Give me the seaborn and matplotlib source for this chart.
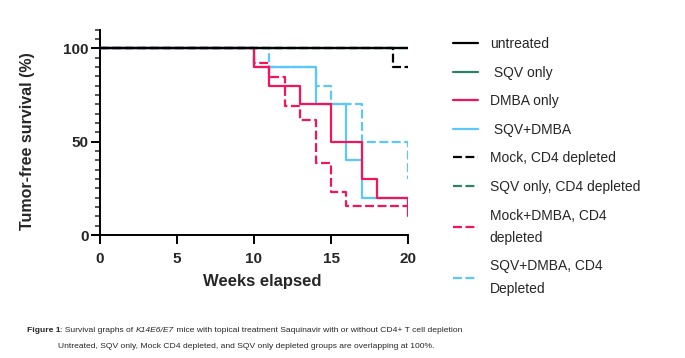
import matplotlib
matplotlib.use("Agg")
import matplotlib.pyplot as plt
import seaborn as sns
import pandas as pd
from matplotlib.ticker import MultipleLocator

sns.set_style("white")
plt.rcParams['font.family'] = ['Liberation Sans', 'DejaVu Sans']

# ---- data (weeks, % tumor-free) ----
labels = ["untreated", " SQV only", "DMBA only", " SQV+DMBA",
          "Mock, CD4 depleted", "SQV only, CD4 depleted",
          "Mock+DMBA, CD4\ndepleted", "SQV+DMBA, CD4\nDepleted"]
untreated_t = [0, 20];                          untreated_s = [100, 100]
sqv_t = [0, 20];                                sqv_s = [100, 100]
dmba_t = [0, 10, 11, 13, 15, 17, 18, 20];       dmba_s = [100, 90, 80, 70, 50, 30, 20, 10]
sqvdmba_t = [0, 10, 14, 16, 17, 20];            sqvdmba_s = [100, 90, 70, 40, 20, 20]
mockcd4_t = [0, 19, 20];                        mockcd4_s = [100, 90, 90]
sqvcd4_t = [0, 20];                             sqvcd4_s = [100, 100]
mockdmbacd4_t = [0, 10, 11, 12, 13, 14, 15, 16, 20]
mockdmbacd4_s = [100, 92.3, 84.6, 69.2, 61.5, 38.5, 23.1, 15.4, 15.4]
sqvdmbacd4_t = [0, 11, 14, 15, 17, 20];         sqvdmbacd4_s = [100, 90, 80, 70, 50, 30]

series_t = [untreated_t, sqv_t, dmba_t, sqvdmba_t, mockcd4_t, sqvcd4_t, mockdmbacd4_t, sqvdmbacd4_t]
series_s = [untreated_s, sqv_s, dmba_s, sqvdmba_s, mockcd4_s, sqvcd4_s, mockdmbacd4_s, sqvdmbacd4_s]

black, green, red, blue = "#000000", "#2f8068", "#f5145a", "#5ac8fa"
colors = [black, green, red, blue, black, green, red, blue]
dash = (0, (4, 1.6))
styles = ["-", "-", "-", "-", dash, dash, dash, dash]

fig = plt.figure(figsize=(6.85, 3.58), dpi=100)
ax = fig.add_axes([92.3 / 685, 1 - 242.5 / 358, 315.7 / 685, 212.9 / 358])

handles = [None] * len(labels)
for i in reversed(range(len(labels))):
    df = pd.DataFrame({"t": series_t[i], "s": series_s[i]})
    sns.lineplot(data=df, x="t", y="s", ax=ax, estimator=None, sort=False,
                 drawstyle="steps-post", color=colors[i], linestyle=styles[i],
                 linewidth=1.6, zorder=10 - i)
    handles[i] = ax.lines[-1]

ax.set_xlim(-0.5, 20)
ax.set_ylim(-4, 110)
ax.spines["left"].set_position(("data", 0))
ax.spines["bottom"].set_position(("data", 0))
for s in ["top", "right"]:
    ax.spines[s].set_visible(False)
for s in ["left", "bottom"]:
    ax.spines[s].set_linewidth(1.4)
    ax.spines[s].set_color("black")

ax.set_xticks([0, 5, 10, 15, 20])
ax.set_yticks([0, 50, 100])
ax.yaxis.set_minor_locator(MultipleLocator(5))
ax.tick_params(axis="both", which="major", direction="out", length=6.5, width=1.4,
               labelsize=11, color="black")
ax.tick_params(axis="y", which="minor", direction="out", length=3.5, width=1.1, left=True)
ax.tick_params(axis="x", which="major", pad=6, bottom=True)
ax.tick_params(axis="y", which="major", pad=1.5, left=True)
for lab in ax.get_xticklabels() + ax.get_yticklabels():
    lab.set_fontweight("bold")

ax.set_xlabel("Weeks elapsed", fontsize=12, fontweight="bold")
ax.set_ylabel("Tumor-free survival (%)", fontsize=11.5, fontweight="bold")
ax.xaxis.set_label_coords((262 - 92.3) / 315.7, (242.5 - 274) / 212.9)
ax.yaxis.set_label_coords((35 - 92.3) / 315.7, (242.5 - 141) / 212.9)

leg = fig.legend(handles, labels, loc="upper left", bbox_to_anchor=(453 / 685, 1 - 37 / 358),
                 frameon=False, fontsize=10, handlelength=1.8, handletextpad=0.85,
                 labelspacing=1.05, borderaxespad=0, borderpad=0)
for t in leg.get_texts():
    t.set_linespacing(1.75)

# caption
cap_font = ['Liberation Sans Narrow', 'Liberation Sans', 'DejaVu Sans']
cap_size = 6.1
t1 = fig.text(27 / 685, 1 - 330 / 358, "Figure 1", fontsize=cap_size, fontweight="bold",
              family=cap_font, va="center")
prev = t1
for txt, style in [(": Survival graphs of ", "normal"), ("K14E6/E7", "italic"),
                   (" mice with topical treatment Saquinavir with or without CD4+ T cell depletion", "normal")]:
    prev = ax.annotate(txt, xy=(1, 0.5), xycoords=prev, va="center", ha="left",
                       fontsize=cap_size, family=cap_font, style=style, annotation_clip=False)
fig.text(58 / 685, 1 - 346 / 358,
         "Untreated, SQV only, Mock CD4 depleted, and SQV only depleted groups are overlapping at 100%.",
         fontsize=cap_size, family=cap_font, va="center")

fig.savefig("out.png", dpi=100)
